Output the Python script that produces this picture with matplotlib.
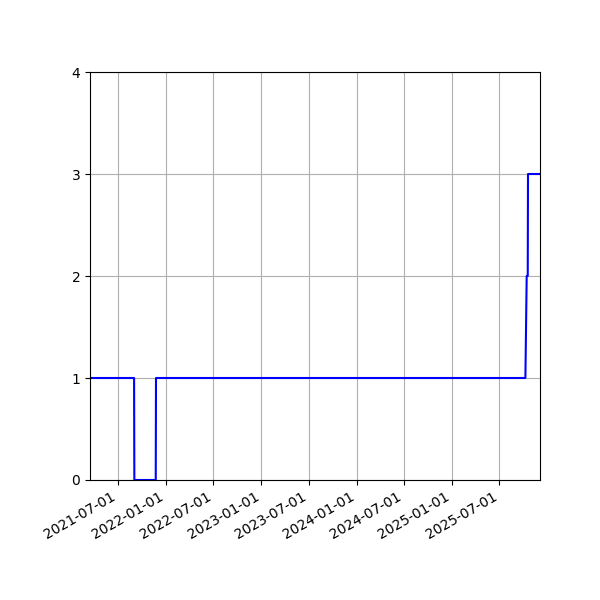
import matplotlib
matplotlib.use('Agg')
import matplotlib.pyplot as plt
import matplotlib.dates as mdates
import pandas as pd

# date / value pairs
dates = ['2021-03-15', '2021-08-31', '2021-09-01', '2021-11-22', '2021-11-23',
         '2025-10-09', '2025-10-14', '2025-10-18', '2025-10-19', '2025-12-04']
values = [1, 1, 0, 0, 1, 1, 2, 2, 3, 3]

x = pd.to_datetime(dates)

fig, ax = plt.subplots(figsize=(6, 6), dpi=100)
ax.plot(x, values, color='blue')
ax.set_xlim(x[0], x[-1])
ax.set_ylim(0, 4)
ax.set_yticks([0, 1, 2, 3, 4])
ax.xaxis.set_major_locator(mdates.MonthLocator(bymonth=[1, 7]))
ax.xaxis.set_major_formatter(mdates.DateFormatter('%Y-%m-%d'))
ax.grid(True)
fig.autofmt_xdate()
fig.subplots_adjust(left=0.15, right=0.9, top=0.88, bottom=0.2)
fig.savefig('out.png')
